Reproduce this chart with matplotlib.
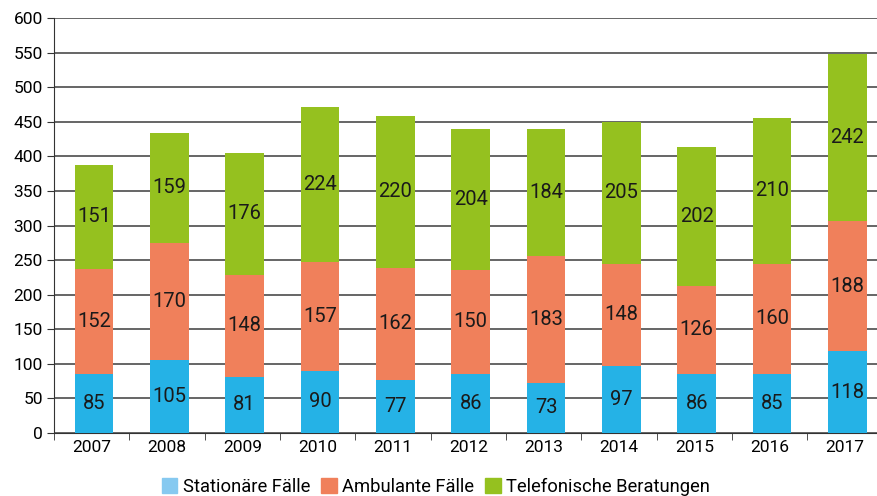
import numpy as np
import matplotlib.pyplot as plt
from matplotlib.patches import Patch

years = ['2007', '2008', '2009', '2010', '2011', '2012', '2013', '2014', '2015', '2016', '2017']
stationaer = [85, 105, 81, 90, 77, 86, 73, 97, 86, 85, 118]
ambulant = [152, 170, 148, 157, 162, 150, 183, 148, 126, 160, 188]
telefon = [151, 159, 176, 224, 220, 204, 184, 205, 202, 210, 242]
labels = ['Stationäre Fälle', 'Ambulante Fälle', 'Telefonische Beratungen']

c_blue = '#25b2e6'
c_orange = '#f0805b'
c_green = '#95c11f'

plt.rcParams['font.family'] = ['Roboto', 'DejaVu Sans']

fig = plt.figure(figsize=(8.77, 4.96), dpi=100)
ax = fig.add_axes([0.0616, 0.127, 0.945, 0.8367])

x = np.arange(len(years))
s = np.array(stationaer)
a = np.array(ambulant)
t = np.array(telefon)

w = 0.51
xb = x + 0.03
b1 = ax.bar(xb, s, w, color=c_blue, zorder=3)
b2 = ax.bar(xb, a, w, bottom=s, color=c_orange, zorder=3)
b3 = ax.bar(xb, t, w, bottom=s + a, color=c_green, zorder=3)
for bars in (b1, b2, b3):
    ax.bar_label(bars, label_type='center', fontsize=14.5, color='#1a1a1a')

ax.set_xlim(-0.5, len(years) - 0.5)
ax.set_ylim(0, 600)
ax.set_yticks(range(0, 601, 50))
ax.yaxis.grid(True, color='#3c3c3c', linewidth=1.1, zorder=0)
ax.set_axisbelow(True)

ax.set_xticks(x)
ax.set_xticklabels(years, fontsize=12.5)
ax.set_xticks(np.arange(-0.5, len(years), 1), minor=True)
ax.tick_params(axis='x', which='major', length=0, pad=5)
ax.tick_params(axis='x', which='minor', length=5, color='#333333')
ax.tick_params(axis='y', labelsize=12.5, length=5, color='#333333', pad=3)

for sp in ['top', 'right']:
    ax.spines[sp].set_visible(False)
ax.spines['left'].set_color('#333333')
ax.spines['bottom'].set_color('#333333')

handles = [Patch(color='#86c9f0'), Patch(color=c_orange), Patch(color=c_green)]
fig.legend(handles, labels, loc='center', bbox_to_anchor=(0.497, 0.018), ncol=3,
           frameon=False, fontsize=13.2, handlelength=0.85, handleheight=0.85,
           handletextpad=0.3, columnspacing=0.6)

fig.savefig('out.png', dpi=100)
